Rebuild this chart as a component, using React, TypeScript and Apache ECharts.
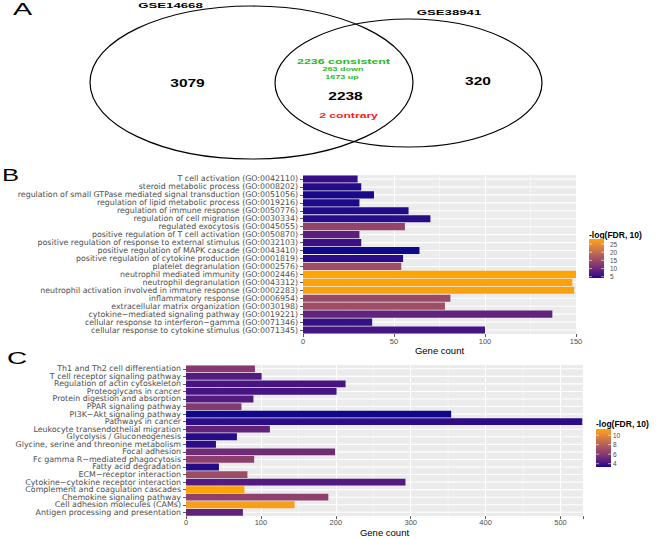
import React, { useEffect, useRef } from 'react';
import * as echarts from 'echarts';

// ---------- Data ----------
const vennSets = ['GSE14668', 'GSE38941'];
const vennOnlyCounts = [3079, 320];
const vennOverlap = 2238;
const vennConsistent = 2236;
const vennDown = 263;
const vennUp = 1673;
const vennContrary = 2;

const goTerms = [
  'T cell activation (GO:0042110)',
  'steroid metabolic process (GO:0008202)',
  'regulation of small GTPase mediated signal transduction (GO:0051056)',
  'regulation of lipid metabolic process (GO:0019216)',
  'regulation of immune response (GO:0050776)',
  'regulation of cell migration (GO:0030334)',
  'regulated exocytosis (GO:0045055)',
  'positive regulation of T cell activation (GO:0050870)',
  'positive regulation of response to external stimulus (GO:0032103)',
  'positive regulation of MAPK cascade (GO:0043410)',
  'positive regulation of cytokine production (GO:0001819)',
  'platelet degranulation (GO:0002576)',
  'neutrophil mediated immunity (GO:0002446)',
  'neutrophil degranulation (GO:0043312)',
  'neutrophil activation involved in immune response (GO:0002283)',
  'inflammatory response (GO:0006954)',
  'extracellular matrix organization (GO:0030198)',
  'cytokine\u2212mediated signaling pathway (GO:0019221)',
  'cellular response to interferon\u2212gamma (GO:0071346)',
  'cellular response to cytokine stimulus (GO:0071345)',
];
const goCounts = [30, 32, 39, 31, 58, 70, 56, 31, 32, 64, 55, 54, 150, 148, 149, 81, 78, 137, 38, 100];
const goLogFdr = [5.5, 4.8, 4.4, 4.5, 4.6, 5.0, 14, 8, 5.8, 4.2, 5.0, 15.5, 28.1, 27.8, 27.6, 14.8, 15.5, 8.8, 5.6, 6.5];
const goXTicks = [0, 50, 100, 150];
const goMinor = [25, 75, 125];
const goLegendTicks = [5, 10, 15, 20, 25];

const keggTerms = [
  'Th1 and Th2 cell differentiation',
  'T cell receptor signaling pathway',
  'Regulation of actin cytoskeleton',
  'Proteoglycans in cancer',
  'Protein digestion and absorption',
  'PPAR signaling pathway',
  'PI3K\u2212Akt signaling pathway',
  'Pathways in cancer',
  'Leukocyte transendothelial migration',
  'Glycolysis / Gluconeogenesis',
  'Glycine, serine and threonine metabolism',
  'Focal adhesion',
  'Fc gamma R\u2212mediated phagocytosis',
  'Fatty acid degradation',
  'ECM\u2212receptor interaction',
  'Cytokine\u2212cytokine receptor interaction',
  'Complement and coagulation cascades',
  'Chemokine signaling pathway',
  'Cell adhesion molecules (CAMs)',
  'Antigen processing and presentation',
];
const keggCounts = [92, 101, 213, 201, 90, 74, 354, 529, 112, 68, 40, 199, 91, 44, 82, 293, 78, 190, 145, 76];
const keggLogFdr = [6.0, 4.4, 4.1, 4.1, 4.4, 6.0, 3.3, 3.6, 4.8, 3.5, 3.6, 5.3, 6.3, 3.5, 7.0, 4.4, 11.3, 6.4, 11.0, 4.8];
const keggXTicks = [0, 100, 200, 300, 400, 500];
const keggMinor = [50, 150, 250, 350, 450];
const keggLegendTicks = [4, 6, 8, 10];

// ---------- Colour (CIELAB interpolation like ggplot) ----------
const LOW = '#10088a';
const HIGH = '#ffa500';
const Xn = 0.95047, Yn = 1, Zn = 1.08883;
function hexToRgb(h: string) {
  const n = parseInt(h.slice(1), 16);
  return [(n >> 16) & 255, (n >> 8) & 255, n & 255];
}
function toLin(c: number) {
  c /= 255;
  return c <= 0.04045 ? c / 12.92 : Math.pow((c + 0.055) / 1.055, 2.4);
}
function fromLin(c: number) {
  c = Math.max(0, Math.min(1, c));
  const v = c <= 0.0031308 ? 12.92 * c : 1.055 * Math.pow(c, 1 / 2.4) - 0.055;
  return Math.round(Math.max(0, Math.min(1, v)) * 255);
}
function ff(t: number) { return t > 0.008856 ? Math.cbrt(t) : 7.787 * t + 16 / 116; }
function finv(t: number) { return t > 0.206893 ? t * t * t : (t - 16 / 116) / 7.787; }
function rgbToLab(rgb: number[]) {
  const [r, g, b] = rgb.map(toLin);
  const X = 0.4124 * r + 0.3576 * g + 0.1805 * b;
  const Y = 0.2126 * r + 0.7152 * g + 0.0722 * b;
  const Z = 0.0193 * r + 0.1192 * g + 0.9505 * b;
  const fx = ff(X / Xn), fy = ff(Y / Yn), fz = ff(Z / Zn);
  return [116 * fy - 16, 500 * (fx - fy), 200 * (fy - fz)];
}
function labToHex(lab: number[]) {
  const [L, a, b] = lab;
  const fy = (L + 16) / 116, fx = fy + a / 500, fz = fy - b / 200;
  const X = Xn * finv(fx), Y = Yn * finv(fy), Z = Zn * finv(fz);
  const r = 3.2406 * X - 1.5372 * Y - 0.4986 * Z;
  const g = -0.9689 * X + 1.8758 * Y + 0.0415 * Z;
  const bb = 0.0557 * X - 0.204 * Y + 1.057 * Z;
  return '#' + [r, g, bb].map((v) => fromLin(v).toString(16).padStart(2, '0')).join('');
}
const labLow = rgbToLab(hexToRgb(LOW));
const labHigh = rgbToLab(hexToRgb(HIGH));
function colorAt(t: number) {
  t = Math.max(0, Math.min(1, t));
  return labToHex(labLow.map((v, i) => v + (labHigh[i] - v) * t));
}

const FONT = "'Liberation Sans', Arial, Helvetica, sans-serif";
const LABEL_FONT = "'DejaVu Sans', 'Liberation Sans', Arial, sans-serif";

function makeText(text: string, x: number, y: number, size: number, color: string, scaleX = 1, weight: string = 'normal', align = 'center') {
  return {
    type: 'text',
    x,
    y,
    scaleX,
    silent: true,
    style: {
      text,
      fill: color,
      fontSize: size,
      fontWeight: weight,
      fontFamily: FONT,
      textAlign: align,
      textVerticalAlign: 'middle',
    },
  };
}

function legend(domain: number[], ticks: number[], x: number, top: number, w: number, h: number, labelX: number, titleY: number) {
  const [mn, mx] = domain;
  const stops = [];
  for (let i = 0; i <= 20; i++) stops.push({ offset: i / 20, color: colorAt(1 - i / 20) });
  const els: any[] = [
    makeText('-log(FDR, 10)', x, titleY, 8.5, '#000', 1, 'bold', 'left'),
    {
      type: 'rect',
      shape: { x, y: top, width: w, height: h },
      style: { fill: new echarts.graphic.LinearGradient(0, 0, 0, 1, stops) },
      silent: true,
    },
  ];
  ticks.forEach((t) => {
    const y = top + ((mx - t) / (mx - mn)) * h;
    els.push(makeText(String(t), labelX, y, 6.5, '#4d4d4d', 1, 'normal', 'left'));
    els.push({ type: 'line', shape: { x1: x, y1: y, x2: x + 3, y2: y }, style: { stroke: '#fff', lineWidth: 0.6 }, silent: true });
    els.push({ type: 'line', shape: { x1: x + w - 3, y1: y, x2: x + w, y2: y }, style: { stroke: '#fff', lineWidth: 0.6 }, silent: true });
  });
  return els;
}

const hLine = (params: any, api: any) => {
  const cs = params.coordSys;
  const y = api.coord([0, api.value(1)])[1];
  return { type: 'line', shape: { x1: cs.x, y1: y, x2: cs.x + cs.width, y2: y }, style: { stroke: '#ffffff', lineWidth: 1.1 }, silent: true };
};
const vLine = (params: any, api: any) => {
  const cs = params.coordSys;
  const x = api.coord([api.value(0), 0])[0];
  return { type: 'line', shape: { x1: x, y1: cs.y, x2: x, y2: cs.y + cs.height }, style: { stroke: '#ffffff', lineWidth: 0.5 }, silent: true };
};

export default function App() {
  const ref = useRef<HTMLDivElement>(null);
  useEffect(() => {
    if (!ref.current) return;
    const chart = echarts.init(ref.current, undefined, { renderer: 'svg' });

    const goDomain = [Math.min(...goLogFdr), Math.max(...goLogFdr)];
    const keggDomain = [Math.min(...keggLogFdr), Math.max(...keggLogFdr)];
    const goColor = (v: number) => colorAt((v - goDomain[0]) / (goDomain[1] - goDomain[0]));
    const keggColor = (v: number) => colorAt((v - keggDomain[0]) / (keggDomain[1] - keggDomain[0]));

    const xAxisBase = {
      type: 'value',
      axisLine: { show: false },
      axisTick: { show: true, length: 3, lineStyle: { color: '#333', width: 0.8 } },
      splitLine: { show: true, lineStyle: { color: '#ffffff', width: 1.1 } },
      nameLocation: 'middle',
      nameTextStyle: { fontSize: 9.5, color: '#000', fontFamily: FONT },
    };
    const yAxisBase = {
      type: 'category',
      inverse: true,
      axisLine: { show: false },
      axisTick: { show: true, length: 3, alignWithLabel: true, lineStyle: { color: '#333', width: 0.8 } },
      splitLine: { show: false },
    };

    const goXMax = goXTicks[goXTicks.length - 1];
    const keggXMax = 530;

    const graphics: any[] = [
      // Venn
      { type: 'ellipse', shape: { cx: 251.5, cy: 82.5, rx: 161.5, ry: 76.5 }, style: { fill: 'none', stroke: '#000', lineWidth: 1.2 }, silent: true },
      { type: 'ellipse', shape: { cx: 408.5, cy: 83, rx: 133.5, ry: 64 }, style: { fill: 'none', stroke: '#000', lineWidth: 1.2 }, silent: true },
      makeText(vennSets[0], 170.5, 5.5, 8, '#000', 1.65, 'bold'),
      makeText(vennSets[1], 449, 12.5, 8, '#000', 1.65, 'bold'),
      makeText(String(vennOnlyCounts[0]), 187.5, 84, 10, '#000', 1.55, 'bold'),
      makeText(String(vennOnlyCounts[1]), 478, 82, 10, '#000', 1.55, 'bold'),
      makeText(`${vennConsistent} consistent`, 343.5, 61, 8, '#22bb22', 1.55, 'bold'),
      makeText(`${vennDown} down`, 343, 69, 6, '#22bb22', 1.5, 'bold'),
      makeText(`${vennUp} up`, 342, 77, 6, '#22bb22', 1.5, 'bold'),
      makeText(String(vennOverlap), 345.5, 97, 10, '#000', 1.55, 'bold'),
      makeText(`${vennContrary} contrary`, 348.5, 115, 8, '#ff1a1a', 1.52, 'bold'),
      // Panel letters
      makeText('A', 22.5, 9.5, 16, '#000', 1.8),
      makeText('B', 10.5, 175.5, 16, '#000', 1.6),
      makeText('C', 17, 358, 16, '#000', 1.75),
      ...legend(goDomain, goLegendTicks, 589, 239, 15, 39, 610, 234.5),
      ...legend(keggDomain, keggLegendTicks, 596, 429, 15, 38, 613, 424),
    ];

    const option: any = {
      animation: false,
      backgroundColor: '#ffffff',
      textStyle: { fontFamily: FONT },
      grid: [
        { left: 303, top: 175, width: 273, height: 159, show: true, backgroundColor: '#EBEBEB', borderWidth: 0 },
        { left: 186, top: 365, width: 397, height: 159, show: true, backgroundColor: '#EBEBEB', borderWidth: 0 },
      ],
      xAxis: [
        {
          ...xAxisBase,
          gridIndex: 0,
          min: goXTicks[0],
          max: goXMax,
          interval: goXTicks[1] - goXTicks[0],
          axisLabel: { fontSize: 7.5, color: '#4d4d4d', margin: 3, fontFamily: FONT },
          name: 'Gene count',
          nameGap: 6,
        },
        {
          ...xAxisBase,
          gridIndex: 1,
          min: keggXTicks[0],
          max: keggXMax,
          interval: keggXTicks[1] - keggXTicks[0],
          axisTick: { show: true, length: 3, lineStyle: { color: '#333', width: 0.8 }, interval: (i: number, v: any) => Number(v) % 100 === 0 },
          axisLabel: {
            fontSize: 7.5,
            color: '#4d4d4d',
            margin: 2,
            fontFamily: FONT,
            formatter: (v: number) => (keggXTicks.indexOf(v) >= 0 ? String(v) : ''),
          },
          name: 'Gene count',
          nameGap: 4,
        },
      ],
      yAxis: [
        {
          ...yAxisBase,
          gridIndex: 0,
          data: goTerms,
          axisLabel: { fontSize: 7.85, color: '#4d4d4d', margin: 5, interval: 0, fontFamily: LABEL_FONT },
        },
        {
          ...yAxisBase,
          gridIndex: 1,
          data: keggTerms,
          axisLabel: { fontSize: 7.9, color: '#4d4d4d', margin: 5, interval: 0, fontFamily: LABEL_FONT },
        },
      ],
      series: [
        { type: 'custom', xAxisIndex: 0, yAxisIndex: 0, z: 1, silent: true, data: goMinor.map((v) => [v, 0]), renderItem: vLine },
        { type: 'custom', xAxisIndex: 0, yAxisIndex: 0, z: 1, silent: true, data: goTerms.map((_, i) => [0, i]), renderItem: hLine },
        {
          type: 'bar',
          xAxisIndex: 0,
          yAxisIndex: 0,
          z: 2,
          barCategoryGap: '10%',
          data: goCounts.map((c, i) => ({ value: c, itemStyle: { color: goColor(goLogFdr[i]) } })),
        },
        { type: 'custom', xAxisIndex: 1, yAxisIndex: 1, z: 1, silent: true, data: keggMinor.map((v) => [v, 0]), renderItem: vLine },
        { type: 'custom', xAxisIndex: 1, yAxisIndex: 1, z: 1, silent: true, data: keggTerms.map((_, i) => [0, i]), renderItem: hLine },
        {
          type: 'bar',
          xAxisIndex: 1,
          yAxisIndex: 1,
          z: 2,
          barCategoryGap: '10%',
          data: keggCounts.map((c, i) => ({ value: c, itemStyle: { color: keggColor(keggLogFdr[i]) } })),
        },
      ],
      graphic: { elements: graphics },
    };

    chart.setOption(option);
    return () => chart.dispose();
  }, []);

  return (
    <div
      ref={ref}
      style={{ position: 'fixed', left: 0, top: 0, width: 658, height: 538, background: '#fff' }}
    />
  );
}
